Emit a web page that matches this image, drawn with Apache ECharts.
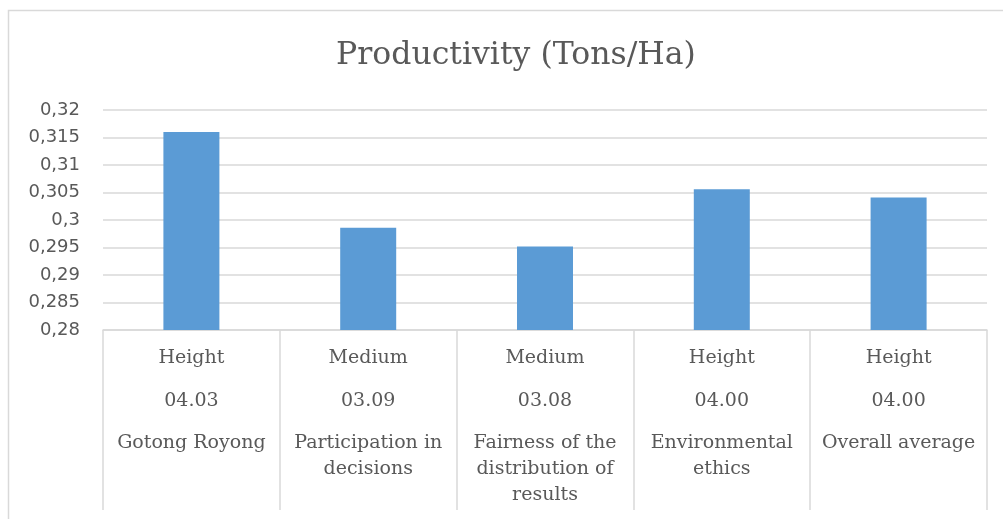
<!DOCTYPE html>
<html>
<head>
<meta charset="utf-8">
<script src="https://cdn.jsdelivr.net/npm/echarts@6/dist/echarts.min.js"></script>
<style>
html,body{margin:0;padding:0;background:#fff;}
#chart{width:1003px;height:519px;}
</style>
</head>
<body>
<div id="chart"></div>
<script>
var levels = ['Height', 'Medium', 'Medium', 'Height', 'Height'];
var scores = ['04.03', '03.09', '03.08', '04.00', '04.00'];
var names = ['Gotong Royong', 'Participation in\ndecisions', 'Fairness of the\ndistribution of\nresults', 'Environmental\nethics', 'Overall average'];
var productivity = [0.316, 0.2986, 0.2952, 0.3056, 0.3041];
var yMin = 0.28, yMax = 0.32, yStep = 0.005;

var serif = '"DejaVu Serif", serif';
var textColor = '#595959';
var lineColor = '#d9d9d9';

var chart = echarts.init(document.getElementById('chart'), null, {renderer: 'canvas'});
chart.setOption({
  animation: false,
  backgroundColor: '#fff',
  graphic: [{
    type: 'rect',
    shape: {x: 8.5, y: 10.5, width: 1010, height: 530},
    style: {fill: 'none', stroke: lineColor, lineWidth: 1.5},
    silent: true
  }],
  title: {
    text: 'Productivity (Tons/Ha)',
    left: 331,
    top: 35,
    textStyle: {fontFamily: serif, fontSize: 31.5, fontWeight: 'normal', color: textColor}
  },
  grid: {left: 103, right: 16, top: 110, bottom: 189},
  xAxis: {
    type: 'category',
    data: names.map(function (n, i) { return i; }),
    axisLine: {show: true, lineStyle: {color: lineColor, width: 1.5}},
    axisTick: {show: true, interval: 0, length: 180, lineStyle: {color: lineColor, width: 1.5}},
    axisLabel: {
      interval: 0,
      margin: 7,
      formatter: function (v) {
        var i = +v;
        return '{a|' + levels[i] + '}\n{b|' + scores[i] + '}\n{s| }\n' +
          names[i].split('\n').map(function (l) { return '{c|' + l + '}'; }).join('\n');
      },
      rich: {
        a: {fontFamily: serif, fontSize: 19, color: textColor, lineHeight: 42, align: 'center'},
        b: {fontFamily: serif, fontSize: 19, color: textColor, lineHeight: 44, align: 'center'},
        s: {fontSize: 1, lineHeight: 7},
        c: {fontFamily: serif, fontSize: 19, color: textColor, lineHeight: 26, align: 'center'}
      }
    },
    splitLine: {show: false}
  },
  yAxis: {
    type: 'value',
    min: yMin,
    max: yMax,
    interval: yStep,
    axisLine: {show: false},
    axisTick: {show: false},
    splitLine: {lineStyle: {color: lineColor, width: 1.5}},
    axisLabel: {
      margin: 23,
      fontFamily: '"DejaVu Sans", sans-serif',
      fontSize: 18,
      color: textColor,
      formatter: function (v) { return String(parseFloat(v.toFixed(3))).replace('.', ','); }
    }
  },
  series: [{
    type: 'bar',
    data: productivity,
    barWidth: 56,
    itemStyle: {color: '#5B9BD5'}
  }]
});
</script>
</body>
</html>
